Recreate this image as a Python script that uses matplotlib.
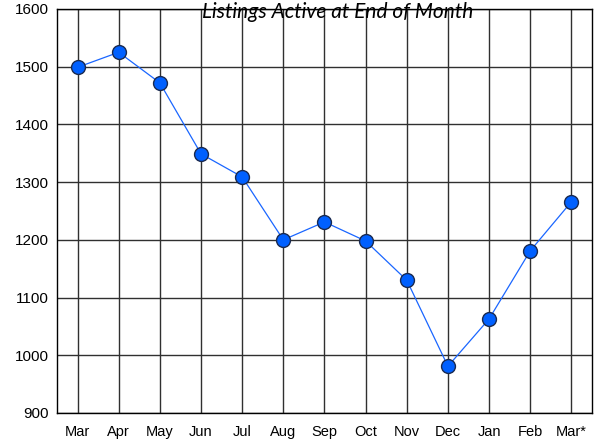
import matplotlib.pyplot as plt

# Datos
months = ["Mar", "Apr", "May", "Jun", "Jul", "Aug", "Sep", "Oct", "Nov", "Dec", "Jan", "Feb", "Mar*"]
listings = [1499, 1525, 1472, 1349, 1309, 1200, 1231, 1198, 1130, 981, 1063, 1181, 1266]
yticks = [900, 1000, 1100, 1200, 1300, 1400, 1500, 1600]

fig = plt.figure(figsize=(6.01, 4.41), dpi=100)
ax = fig.add_axes([0.0948, 0.0635, 0.8902, 0.9161])

x = list(range(len(months)))
ax.plot(x, listings, color="#1a66ff", lw=0.9, marker="o", markersize=10,
        markerfacecolor="#0060ff", markeredgecolor="#1a2a50", markeredgewidth=1.0, zorder=3)

ax.set_xlim(-0.5, 12.5)
ax.set_ylim(900, 1600)
ax.set_xticks(x)
ax.set_xticklabels(months, fontfamily="Liberation Sans", fontsize=10.5)
ax.set_yticks(yticks)
ax.set_yticklabels([str(v) for v in yticks], fontfamily="Liberation Sans", fontsize=11)
ax.tick_params(axis="x", length=0, pad=9)
ax.tick_params(axis="y", length=0, pad=6)
ax.grid(True, color="#303030", lw=1.0)
ax.set_axisbelow(True)
for s in ax.spines.values():
    s.set_color("black")
    s.set_linewidth(1.0)

fig.text(0.5625, 0.973, "Listings Active at End of Month", ha="center", va="center",
         fontfamily="Lato", style="italic", fontsize=15)

fig.savefig("out.png", dpi=100)
